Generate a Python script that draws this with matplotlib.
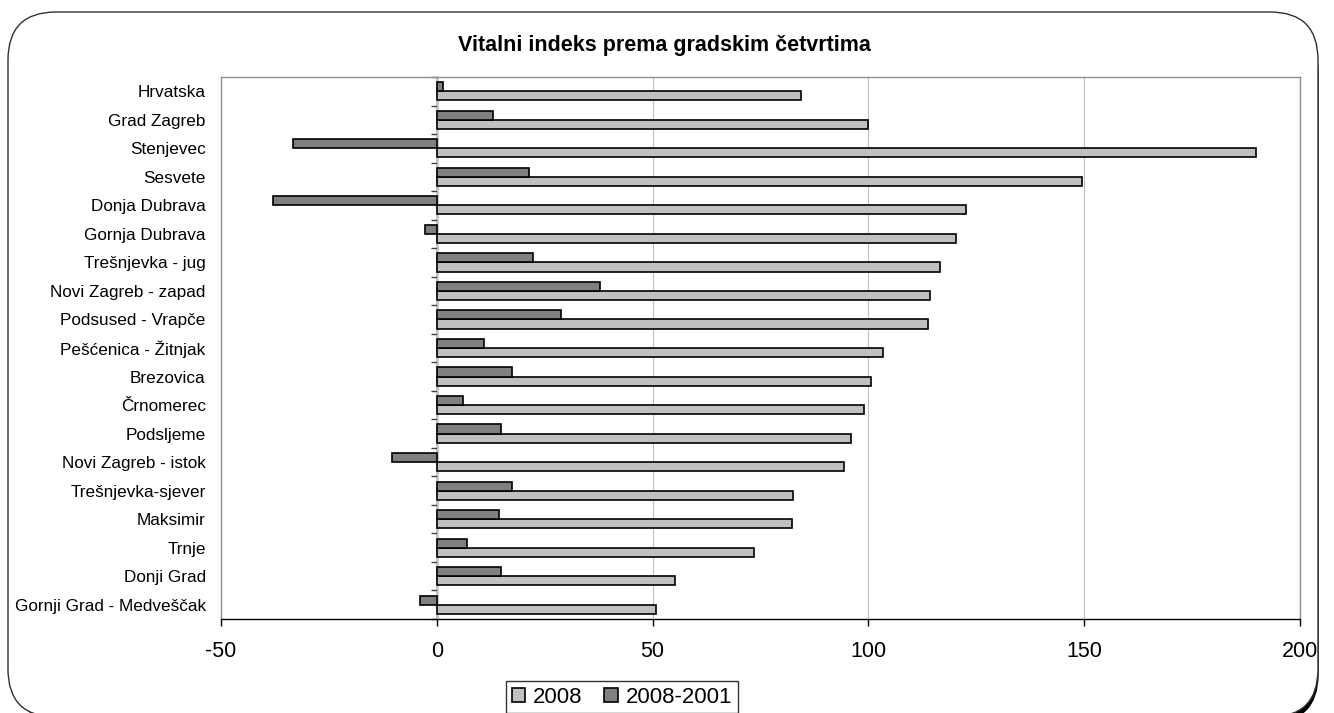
import matplotlib
matplotlib.use("Agg")
import matplotlib.pyplot as plt
import numpy as np
from matplotlib.patches import FancyBboxPatch
from matplotlib.transforms import IdentityTransform

plt.rcParams['font.family'] = ['Liberation Sans', 'DejaVu Sans']

# data
categories = ["Hrvatska", "Grad Zagreb", "Stenjevec", "Sesvete", "Donja Dubrava",
              "Gornja Dubrava", "Trešnjevka - jug", "Novi Zagreb - zapad",
              "Podsused - Vrapče", "Pešćenica - Žitnjak", "Brezovica", "Črnomerec",
              "Podsljeme", "Novi Zagreb - istok", "Trešnjevka-sjever", "Maksimir",
              "Trnje", "Donji Grad", "Gornji Grad - Medveščak"]
v2008 = [84.3, 100.0, 189.8, 149.4, 122.5, 120.3, 116.5, 114.3, 113.8, 103.4,
         100.7, 99.0, 96.0, 94.4, 82.6, 82.2, 73.5, 55.2, 50.9]
v_change = [1.4, 13.1, -33.3, 21.3, -37.9, -2.7, 22.2, 37.8, 28.8, 11.0,
            17.5, 6.1, 14.8, -10.4, 17.5, 14.4, 7.0, 14.8, -3.9]
xticks = [-50, 0, 50, 100, 150, 200]

W, H = 1334, 713
fig = plt.figure(figsize=(W / 100, H / 100), dpi=100)
fig.patch.set_facecolor('white')

# rounded chart frame with shadow (pixel coords)
shadow = FancyBboxPatch((16, -9), 1302, 697, boxstyle="round,pad=0,rounding_size=48",
                        transform=IdentityTransform(), facecolor='black',
                        edgecolor='black', zorder=-20)
frame = FancyBboxPatch((8, -4), 1310, 705, boxstyle="round,pad=0,rounding_size=48",
                       transform=IdentityTransform(), facecolor='white',
                       edgecolor='#303030', linewidth=1.0, zorder=-19)
fig.patches.extend([shadow, frame])

ax = fig.add_axes([221 / W, 1 - 619 / H, (1300 - 221) / W, (619 - 77) / H])

y = np.arange(len(categories))
h = 0.32
ax.barh(y + h / 2, v2008, height=h, color='#c0c0c0', edgecolor='black',
        linewidth=1.2, label='2008', zorder=3)
ax.barh(y - h / 2, v_change, height=h, color='#808080', edgecolor='black',
        linewidth=1.2, label='2008-2001', zorder=3)

ax.set_xlim(-50, 200)
ax.set_ylim(len(categories) - 0.5, -0.5)
ax.set_xticks(xticks)
ax.set_xticklabels([str(t) for t in xticks], fontsize=15.5)
ax.tick_params(axis='x', length=5, width=1, pad=11, color='black')
ax.grid(axis='x', color='#c0c0c0', linewidth=0.8, zorder=0)

ax.set_yticks(y)
ax.set_yticklabels(categories, fontsize=12.3)
ax.tick_params(axis='y', length=0, pad=11)

for s in ['top', 'right', 'left']:
    ax.spines[s].set_color('#909090')
    ax.spines[s].set_linewidth(1.0)
ax.spines['bottom'].set_color('black')
ax.spines['bottom'].set_linewidth(1.0)

# category axis drawn at x = 0
sec = ax.secondary_yaxis(50 / 250)
sec.set_yticks(np.arange(-0.5, len(categories), 1.0))
sec.set_yticklabels([])
sec.tick_params(axis='y', length=4, width=1, color='#404040')
sec.spines['left'].set_color('black')
sec.spines['left'].set_linewidth(1.0)

fig.text(0.498, 1 - 45 / H, 'Vitalni indeks prema gradskim četvrtima',
         ha='center', va='center', fontsize=15.5, fontweight='bold')

leg = fig.legend(loc='upper left', bbox_to_anchor=(506 / W, 1 - 681 / H),
                 ncol=2, fontsize=16, frameon=True, fancybox=False,
                 handlelength=0.6, handleheight=0.6, handletextpad=0.35,
                 columnspacing=1.0, borderpad=0.25, borderaxespad=0.0)
leg.get_frame().set_edgecolor('black')
leg.get_frame().set_linewidth(1.0)

fig.savefig('out.png', dpi=100)
